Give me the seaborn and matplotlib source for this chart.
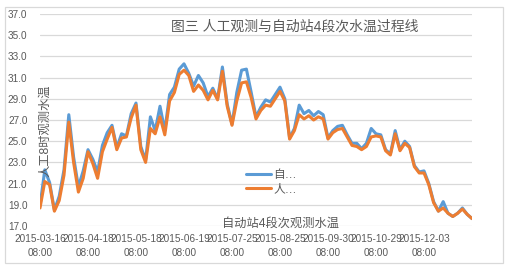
import pandas as pd
import matplotlib.pyplot as plt
import matplotlib.patches as mpatches
import seaborn as sns

# values, one point per ~3 days
auto_temp = [18.9, 22.3, 21.1, 18.5, 19.8, 22.3, 27.5, 23.5, 20.7, 22.2,
             24.2, 23.3, 22.1, 24.6, 25.8, 26.5, 24.4, 25.7, 25.5, 27.6,
             28.6, 24.5, 23.2, 27.3, 26.0, 28.3, 26.0, 29.4, 30.1, 31.8,
             32.3, 31.4, 30.2, 31.2, 30.5, 29.2, 30.0, 29.0, 32.0, 28.5,
             26.6, 29.6, 31.7, 31.8, 29.6, 27.3, 28.2, 28.9, 28.7, 29.4,
             30.1, 29.0, 25.3, 26.2, 28.4, 27.6, 27.9, 27.4, 27.8, 27.5,
             25.3, 26.0, 26.4, 26.5, 25.6, 24.8, 24.8, 24.3, 24.8, 26.2,
             25.7, 25.6, 24.2, 23.8, 26.0, 24.2, 25.0, 24.5, 22.7, 22.1,
             22.2, 21.0, 19.3, 18.4, 19.3, 18.2, 17.9, 18.2, 18.7, 18.1,
             17.7]
manual_temp = [18.7, 21.2, 20.9, 18.4, 19.4, 21.8, 26.8, 23.0, 20.2, 21.5,
               24.0, 22.9, 21.5, 24.0, 25.2, 26.3, 24.2, 25.3, 25.4, 27.2,
               28.4, 24.2, 23.0, 26.2, 25.7, 27.3, 25.6, 28.8, 29.6, 31.3,
               31.7, 31.2, 29.7, 30.3, 29.8, 28.9, 29.8, 28.9, 31.6, 28.3,
               26.5, 28.8, 30.5, 30.6, 29.1, 27.1, 27.9, 28.4, 28.3, 29.0,
               29.7, 28.8, 25.2, 26.0, 27.5, 27.1, 27.4, 27.0, 27.3, 27.1,
               25.2, 25.8, 26.1, 26.2, 25.4, 24.6, 24.5, 24.2, 24.5, 25.4,
               25.5, 25.4, 24.1, 23.7, 25.7, 24.1, 24.8, 24.4, 22.6, 22.0,
               22.0, 20.9, 19.2, 18.4, 18.7, 18.2, 17.9, 18.2, 18.6, 18.1,
               17.7]
tick_dates = ['2015-03-16', '2015-04-18', '2015-05-18', '2015-06-19', '2015-07-25',
              '2015-08-25', '2015-09-30', '2015-10-29', '2015-12-03']
tick_step = 10
auto_name = '自动站4段次观测水温'
manual_name = '人工8时观测水温'

df = pd.DataFrame({
    'idx': list(range(len(auto_temp))) * 2,
    'temp': auto_temp + manual_temp,
    'series': [auto_name] * len(auto_temp) + [manual_name] * len(manual_temp),
})

sns.set_theme(style='white')
plt.rcParams['font.family'] = ['Liberation Sans', 'Noto Sans CJK SC', 'DejaVu Sans']
grey = '#595959'

fig = plt.figure(figsize=(5.14, 2.75), dpi=100)
ax = fig.add_axes([40 / 514, 1 - 226 / 275, 432 / 514, 212 / 275])

sns.lineplot(data=df, x='idx', y='temp', hue='series', ax=ax,
             palette=['#5B9BD5', '#ED7D31'], linewidth=2.2, legend=False)

ax.set_xlim(0, len(auto_temp) - 1)
ax.set_ylim(17, 37)
ax.set_yticks([17 + 2 * i for i in range(11)])
ax.set_yticklabels([f'{17 + 2 * i:.1f}' for i in range(11)])
ax.set_xticks([tick_step * i for i in range(len(tick_dates))])
ax.set_xticklabels([d + '\n08:00' for d in tick_dates], linespacing=1.45)
ax.tick_params(axis='both', length=0, labelsize=7.2, colors=grey)
ax.tick_params(axis='y', pad=9)
ax.tick_params(axis='x', pad=6)
ax.grid(axis='y', color='#D9D9D9', linewidth=0.9)
ax.grid(axis='x', visible=False)
for s in ax.spines.values():
    s.set_visible(False)
ax.set_xlabel('')
ax.set_ylabel('')

# titles placed like the Excel original
fig.text(295 / 514, 1 - 27 / 275, '图三 人工观测与自动站4段次水温过程线',
         ha='center', va='center', fontsize=10, color=grey)
fig.text(45 / 514, 1 - 131 / 275, manual_name, rotation=90,
         ha='center', va='center', fontsize=8.8, color=grey)
fig.text(280 / 514, 1 - 224 / 275, auto_name,
         ha='center', va='center', fontsize=8.8, color=grey)

handles = [plt.Line2D([], [], color='#5B9BD5', linewidth=2.2),
           plt.Line2D([], [], color='#ED7D31', linewidth=2.2)]
ax.legend(handles, ['自…', '人…'], loc='center left',
          bbox_to_anchor=(246 / 514, 1 - 182 / 275), bbox_transform=fig.transFigure,
          frameon=False, fontsize=8.5, handlelength=2.1, handletextpad=0.2,
          labelspacing=0.15, borderpad=0, borderaxespad=0, labelcolor=grey)

fig.patches.append(mpatches.Rectangle((5 / 514, 1 - 263 / 275), 498 / 514, 256 / 275,
                                      transform=fig.transFigure, fill=False,
                                      edgecolor='#D9D9D9', linewidth=0.9))

fig.savefig('out.png', dpi=100)
